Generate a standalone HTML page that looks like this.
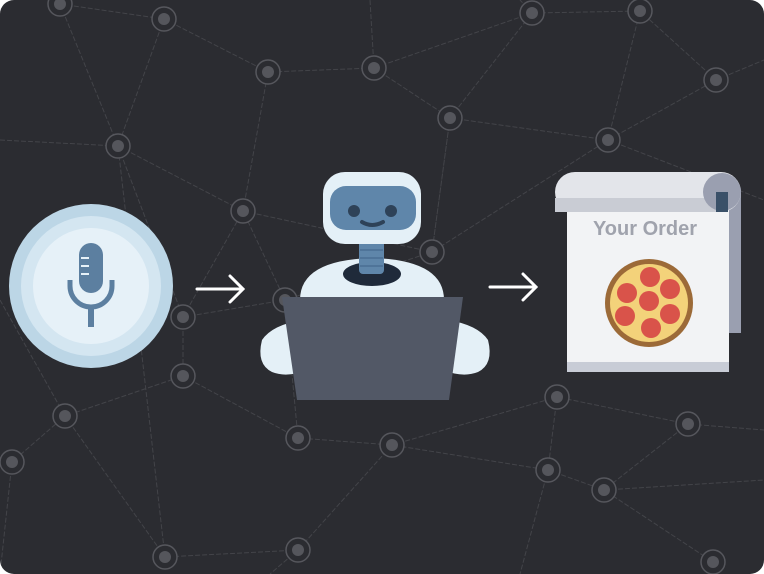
<!DOCTYPE html>
<html><head><style>body{margin:0;background:#fff}svg{display:block}</style></head><body>
<svg width="764" height="574" viewBox="0 0 764 574" xmlns="http://www.w3.org/2000/svg">
<defs><clipPath id="c"><rect x="0" y="0" width="764" height="574" rx="14"/></clipPath></defs>
<g clip-path="url(#c)">
<rect width="764" height="574" fill="#2b2c31"/>
<g stroke="#434449" stroke-width="1" fill="none" stroke-dasharray="5 2">
<path d="M60 4L164 19L268 72L374 68L532 13L640 11L716 80M60 4L118 146L243 211L268 72M164 19L118 146M374 68L450 118L532 13M450 118L608 140L716 80M608 140L640 11M0 140L118 146L183 317L243 211L285 300L432 252L450 118M243 211L432 252L608 140M183 317L183 376L65 416L12 462M183 317L285 300L298 438L392 445L557 397L688 424L764 430M183 376L298 438M65 416L165 557L298 550L392 445M548 470L604 490L713 562M557 397L548 470L392 445M688 424L604 490M12 462L0 574M298 550L270 574M548 470L520 574M608 140L764 200M716 80L764 60M374 68L370 0M450 118L432 252M0 300L65 416M532 13L520 0M604 490L764 480M165 557L118 146"/>
</g>
<g stroke="#56575d" stroke-width="1.5" fill="#2b2c31">
<circle cx="60" cy="4" r="12"/><circle cx="164" cy="19" r="12"/><circle cx="268" cy="72" r="12"/><circle cx="374" cy="68" r="12"/><circle cx="532" cy="13" r="12"/><circle cx="640" cy="11" r="12"/><circle cx="716" cy="80" r="12"/><circle cx="450" cy="118" r="12"/><circle cx="608" cy="140" r="12"/><circle cx="118" cy="146" r="12"/><circle cx="243" cy="211" r="12"/><circle cx="432" cy="252" r="12"/><circle cx="285" cy="300" r="12"/><circle cx="183" cy="317" r="12"/><circle cx="183" cy="376" r="12"/><circle cx="65" cy="416" r="12"/><circle cx="12" cy="462" r="12"/><circle cx="298" cy="438" r="12"/><circle cx="392" cy="445" r="12"/><circle cx="557" cy="397" r="12"/><circle cx="688" cy="424" r="12"/><circle cx="548" cy="470" r="12"/><circle cx="604" cy="490" r="12"/><circle cx="165" cy="557" r="12"/><circle cx="298" cy="550" r="12"/><circle cx="713" cy="562" r="12"/>
</g>
<g fill="#55565c">
<circle cx="60" cy="4" r="6"/><circle cx="164" cy="19" r="6"/><circle cx="268" cy="72" r="6"/><circle cx="374" cy="68" r="6"/><circle cx="532" cy="13" r="6"/><circle cx="640" cy="11" r="6"/><circle cx="716" cy="80" r="6"/><circle cx="450" cy="118" r="6"/><circle cx="608" cy="140" r="6"/><circle cx="118" cy="146" r="6"/><circle cx="243" cy="211" r="6"/><circle cx="432" cy="252" r="6"/><circle cx="285" cy="300" r="6"/><circle cx="183" cy="317" r="6"/><circle cx="183" cy="376" r="6"/><circle cx="65" cy="416" r="6"/><circle cx="12" cy="462" r="6"/><circle cx="298" cy="438" r="6"/><circle cx="392" cy="445" r="6"/><circle cx="557" cy="397" r="6"/><circle cx="688" cy="424" r="6"/><circle cx="548" cy="470" r="6"/><circle cx="604" cy="490" r="6"/><circle cx="165" cy="557" r="6"/><circle cx="298" cy="550" r="6"/><circle cx="713" cy="562" r="6"/>
</g>
<!-- mic -->
<circle cx="91" cy="286" r="82" fill="#bcd6e6"/>
<circle cx="91" cy="286" r="70" fill="#d4e6f1"/>
<circle cx="91" cy="286" r="58" fill="#e6f1f8"/>
<rect x="79" y="243" width="24" height="50" rx="12" fill="#5c7fa0"/>
<path d="M70 280v6a21 21 0 0 0 42 0v-6" stroke="#5c7fa0" stroke-width="5" fill="none"/>
<rect x="88" y="305" width="6" height="22" fill="#5c7fa0"/>
<g stroke="#e6f1f8" stroke-width="2"><path d="M81 258h8M81 266h8M81 274h8"/></g>
<!-- arrows -->
<g stroke="#fff" stroke-width="3" fill="none" stroke-linecap="round"><path d="M197 289h46M230 276l13 13-13 13M490 287h46M523 274l13 13-13 13"/></g>
<!-- robot -->
<path d="M262 340q10-15 40-20l5 50q-20 8-35 2q-16-8-10-32z" fill="#e4f0f7"/>
<path d="M488 340q-10-15-40-20l-5 50q20 8 35 2q16-8 10-32z" fill="#e4f0f7"/>
<path d="M300 300q0-40 72-42q72 2 72 42z" fill="#e4f0f7"/>
<ellipse cx="372" cy="274" rx="29" ry="12" fill="#1f2a3a"/>
<rect x="359" y="240" width="25" height="34" rx="4" fill="#5f86aa"/>
<g stroke="#4a6f93" stroke-width="1.5"><path d="M360 250h23M360 258h23M360 266h23"/></g>
<rect x="323" y="172" width="98" height="72" rx="22" fill="#e4f0f7"/>
<rect x="330" y="186" width="86" height="44" rx="16" fill="#5f86aa"/>
<circle cx="354" cy="211" r="6" fill="#2e4258"/><circle cx="391" cy="211" r="6" fill="#2e4258"/>
<path d="M362 222q10 6 21 0" stroke="#2e4258" stroke-width="4" fill="none" stroke-linecap="round"/>
<polygon points="282,297 463,297 449,400 297,400" fill="#525866"/>
<!-- scroll -->
<rect x="716" y="190" width="25" height="143" fill="#9a9fb0"/>
<rect x="567" y="205" width="162" height="167" fill="#f2f3f5"/>
<rect x="567" y="362" width="162" height="10" fill="#c8ccd6"/>
<rect x="555" y="172" width="186" height="40" rx="20" fill="#e3e5ea"/>
<rect x="555" y="198" width="170" height="14" fill="#c9ccd4"/>
<circle cx="722" cy="192" r="19" fill="#9a9fb0"/>
<path d="M716 192h12v20h-12z" fill="#3a5068"/>
<text x="645" y="235" text-anchor="middle" font-family="Liberation Sans, sans-serif" font-weight="bold" font-size="20" fill="#a0a3ad">Your Order</text>
<circle cx="649" cy="303" r="44" fill="#9c6a38"/>
<circle cx="649" cy="303" r="39" fill="#f3d27a"/>
<g fill="#d9534a"><circle cx="650" cy="277" r="10"/><circle cx="627" cy="293" r="10"/><circle cx="670" cy="289" r="10"/><circle cx="649" cy="301" r="10"/><circle cx="625" cy="316" r="10"/><circle cx="670" cy="314" r="10"/><circle cx="651" cy="328" r="10"/></g>
</g>
</svg>
</body></html>
